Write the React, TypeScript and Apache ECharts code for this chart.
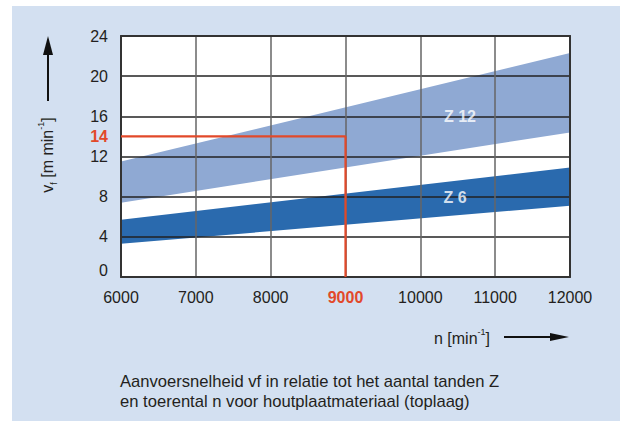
import React, { useEffect, useRef } from "react";
import * as echarts from "echarts";

const rpm = [6000, 12000];
const z12Low = [7.4, 14.4];
const z12High = [11.5, 22.3];
const z6Low = [3.3, 7.1];
const z6High = [5.7, 10.9];
const markRpm = 9000;
const markSpeed = 14;
const yTicks = [0, 4, 8, 12, 16, 20, 24];
const bandLabels = [
  { name: "Z 12", x: 10530, y: 16.0 },
  { name: "Z 6", x: 10465, y: 7.9 },
];
const caption = [
  "Aanvoersnelheid vf in relatie tot het aantal tanden Z",
  "en toerental n voor houtplaatmateriaal (toplaag)",
];

const FONT = "'Liberation Sans', Arial, sans-serif";
const TXT = "#231f20";
const RED = "#e2492a";
const LIGHT = "#8fa9d3";
const DARK = "#2a6aae";
const BG = "#d3e0f1";

function bandSeries(low: number[], high: number[], color: string) {
  return {
    type: "custom",
    z: 1,
    silent: true,
    clip: true,
    data: rpm.map((x, i) => [x, low[i], high[i]]),
    encode: { x: 0, y: [1, 2] },
    renderItem: (params: any, api: any) => {
      if (params.dataIndex !== 0) return null;
      const top = rpm.map((x, i) => api.coord([x, high[i]]));
      const bottom = rpm.map((x, i) => api.coord([x, low[i]])).reverse();
      return {
        type: "polygon",
        shape: { points: top.concat(bottom) },
        style: { fill: color },
      };
    },
  };
}

export default function App() {
  const ref = useRef<HTMLDivElement>(null);
  useEffect(() => {
    if (!ref.current) return;
    const chart = echarts.init(ref.current, undefined, { renderer: "svg" });
    const frameLine = { show: true, onZero: false, lineStyle: { color: "#333", width: 2 } };
    const option: any = {
      animation: false,
      textStyle: { fontFamily: FONT },
      grid: { left: 121, top: 36, right: 50, bottom: 144, show: true, backgroundColor: "#fff", borderWidth: 0 },
      xAxis: [
        {
          type: "value",
          min: 6000,
          max: 12000,
          interval: 1000,
          z: 3,
          axisLine: frameLine,
          axisTick: { show: false },
          splitLine: { show: true, lineStyle: { color: "#666", width: 1.5 } },
          axisLabel: {
            margin: 12,
            fontSize: 16,
            color: TXT,
            fontFamily: FONT,
            formatter: (v: number) => (v === markRpm ? `{r|${v}}` : String(v)),
            rich: { r: { color: RED, fontWeight: "bold", fontSize: 16, fontFamily: FONT } },
          },
        },
        {
          type: "value",
          position: "top",
          min: 6000,
          max: 12000,
          z: 3,
          axisLine: frameLine,
          axisTick: { show: false },
          axisLabel: { show: false },
          splitLine: { show: false },
        },
      ],
      yAxis: [
        {
          type: "value",
          min: yTicks[0],
          max: yTicks[yTicks.length - 1],
          interval: 4,
          z: 3,
          axisLine: frameLine,
          axisTick: { show: false },
          splitLine: { show: true, lineStyle: { color: "#222", width: 1.5 } },
          axisLabel: {
            margin: 13,
            fontSize: 16,
            color: TXT,
            fontFamily: FONT,
            formatter: (v: number) => (v === 0 ? "{z|0}" : String(v)),
            rich: { z: { fontSize: 16, color: TXT, fontFamily: FONT, padding: [0, 0, 14, 0] } },
          },
        },
        {
          type: "value",
          position: "left",
          min: 0,
          max: 24,
          interval: markSpeed,
          z: 3,
          axisLine: { show: false, onZero: false },
          axisTick: { show: false },
          splitLine: { show: false },
          axisLabel: {
            margin: 13,
            fontSize: 16,
            fontFamily: FONT,
            formatter: (v: number) => (v === markSpeed ? `{r|${v}}` : ""),
            rich: { r: { color: RED, fontWeight: "bold", fontSize: 16, fontFamily: FONT } },
          },
        },
        {
          type: "value",
          position: "right",
          min: 0,
          max: 24,
          z: 3,
          axisLine: frameLine,
          axisTick: { show: false },
          axisLabel: { show: false },
          splitLine: { show: false },
        },
      ],
      series: [
        bandSeries(z12Low, z12High, LIGHT),
        bandSeries(z6Low, z6High, DARK),
        {
          type: "line",
          data: [
            [rpm[0], markSpeed],
            [markRpm, markSpeed],
            [markRpm, 0],
          ],
          symbol: "none",
          lineStyle: { color: RED, width: 2.2 },
          z: 5,
          silent: true,
        },
        {
          type: "scatter",
          symbolSize: 0,
          z: 6,
          silent: true,
          data: bandLabels.map((b) => [b.x, b.y, b.name]),
          label: {
            show: true,
            position: "inside",
            color: "#fff",
            fontWeight: "bold",
            fontSize: 16,
            fontFamily: FONT,
            formatter: (p: any) => p.value[2],
          },
        },
      ],
      graphic: [
        { type: "rect", z: -10, silent: true, shape: { x: 12, y: 6, width: 608, height: 415 }, style: { fill: BG } },
        { type: "line", shape: { x1: 48, y1: 101, x2: 48, y2: 52 }, style: { stroke: "#111", lineWidth: 2 } },
        { type: "polygon", shape: { points: [[48, 36], [43, 55], [53, 55]] }, style: { fill: "#111" } },
        { type: "line", shape: { x1: 504, y1: 337, x2: 555, y2: 337 }, style: { stroke: "#111", lineWidth: 2 } },
        { type: "polygon", shape: { points: [[569, 337], [550, 333], [550, 341]] }, style: { fill: "#111" } },
        {
          type: "text",
          x: 47,
          y: 155,
          rotation: Math.PI / 2,
          style: {
            text: "v{sub|f} [m min{sup|-1}]",
            align: "center",
            verticalAlign: "middle",
            fill: TXT,
            font: `16px ${FONT}`,
            rich: {
              sub: { fontSize: 9, fontFamily: FONT, fill: TXT, verticalAlign: "bottom", lineHeight: 22 },
              sup: { fontSize: 9, fontFamily: FONT, fill: TXT, verticalAlign: "top", lineHeight: 22 },
            },
          },
        },
        {
          type: "text",
          x: 434,
          y: 338,
          style: {
            text: "n [min{sup|-1}]",
            align: "left",
            verticalAlign: "middle",
            fill: TXT,
            font: `16px ${FONT}`,
            rich: {
              sup: { fontSize: 9, fontFamily: FONT, fill: TXT, verticalAlign: "top", lineHeight: 22 },
            },
          },
        },
        {
          type: "text",
          x: 120,
          y: 371,
          style: {
            text: caption.join("\n"),
            fill: TXT,
            font: `16.6px ${FONT}`,
            lineHeight: 20,
            align: "left",
            verticalAlign: "top",
          },
        },
      ],
    };
    chart.setOption(option);
    return () => chart.dispose();
  }, []);
  return <div ref={ref} style={{ position: "absolute", left: 0, top: 0, width: 620, height: 421 }} />;
}
